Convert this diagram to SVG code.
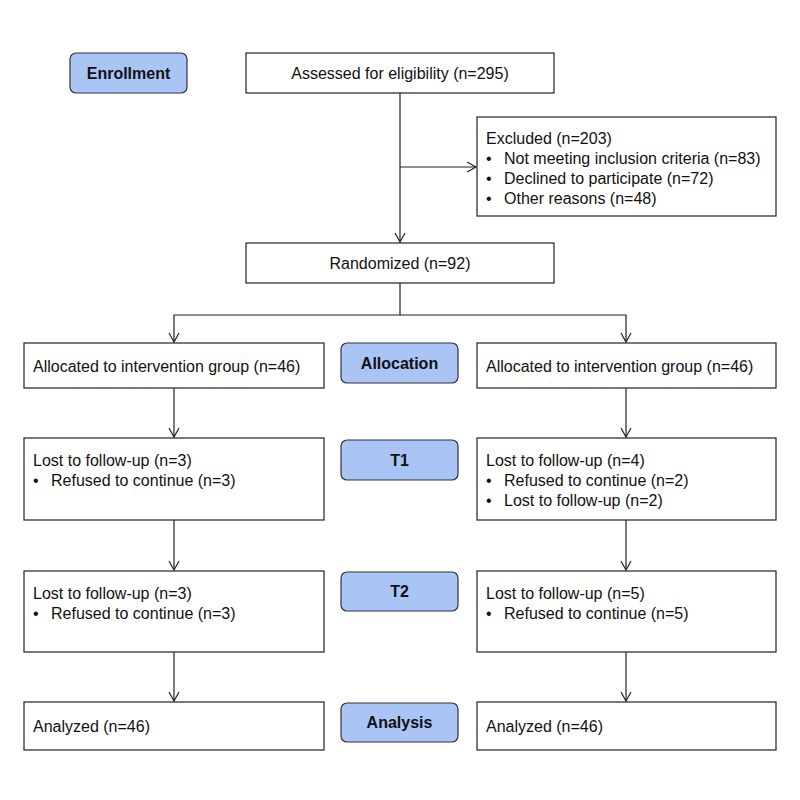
<svg xmlns="http://www.w3.org/2000/svg" width="800" height="800" viewBox="0 0 800 800">
<style>
.box{fill:#fff;stroke:#222;stroke-width:1.2}
.lab{fill:#a9c4f5;stroke:#333;stroke-width:1.2}
text{font-family:"Liberation Sans",Arial,sans-serif;font-size:16px;fill:#111}
.b{font-weight:bold;text-anchor:middle}
.c{text-anchor:middle}
.ln{stroke:#222;stroke-width:1.2;fill:none}
</style>
<defs><marker id="ar" markerWidth="12" markerHeight="12" refX="10" refY="6" orient="auto" markerUnits="userSpaceOnUse"><path d="M1,1 L10,6 L1,11" fill="none" stroke="#222" stroke-width="1.2"/></marker></defs>
<rect width="800" height="800" fill="#fff"/>
<g id="connectors">
<line class="ln" x1="400" y1="93" x2="400" y2="242" marker-end="url(#ar)"/>
<line class="ln" x1="400" y1="167" x2="476" y2="167" marker-end="url(#ar)"/>
<polyline class="ln" points="400,283 400,315 174,315 174,342" marker-end="url(#ar)"/>
<polyline class="ln" points="400,315 626,315 626,342" marker-end="url(#ar)"/>
<line class="ln" x1="174" y1="388" x2="174" y2="437" marker-end="url(#ar)"/>
<line class="ln" x1="626" y1="388" x2="626" y2="437" marker-end="url(#ar)"/>
<line class="ln" x1="174" y1="520" x2="174" y2="570" marker-end="url(#ar)"/>
<line class="ln" x1="626" y1="520" x2="626" y2="570" marker-end="url(#ar)"/>
<line class="ln" x1="174" y1="652" x2="174" y2="701" marker-end="url(#ar)"/>
<line class="ln" x1="626" y1="652" x2="626" y2="701" marker-end="url(#ar)"/>
</g>
<g id="enrollment"><rect class="lab" x="70" y="53" width="117" height="40" rx="6"/><text class="b" x="128.5" y="79">Enrollment</text></g>
<g id="assessed"><rect class="box" x="246" y="53" width="308" height="40"/><text class="c" x="400" y="79">Assessed for eligibility (n=295)</text></g>
<g id="excluded"><rect class="box" x="477" y="117" width="299" height="99"/>
<text x="486" y="144">Excluded (n=203)</text>
<text x="486" y="164">•</text><text x="504" y="164">Not meeting inclusion criteria (n=83)</text>
<text x="486" y="184">•</text><text x="504" y="184">Declined to participate (n=72)</text>
<text x="486" y="204">•</text><text x="504" y="204">Other reasons (n=48)</text></g>
<g id="randomized"><rect class="box" x="246" y="243" width="308" height="40"/><text class="c" x="400" y="269">Randomized (n=92)</text></g>
<g id="allocL"><rect class="box" x="24" y="343" width="300" height="45"/><text x="33" y="372">Allocated to intervention group (n=46)</text></g>
<g id="allocation"><rect class="lab" x="341" y="343" width="117" height="40" rx="6"/><text class="b" x="399.5" y="369">Allocation</text></g>
<g id="allocR"><rect class="box" x="477" y="343" width="299" height="45"/><text x="486" y="372">Allocated to intervention group (n=46)</text></g>
<g id="t1L"><rect class="box" x="24" y="438" width="300" height="82"/>
<text x="33" y="466">Lost to follow-up (n=3)</text><text x="33" y="486">•</text><text x="51" y="486">Refused to continue (n=3)</text></g>
<g id="t1"><rect class="lab" x="341" y="440" width="117" height="40" rx="6"/><text class="b" x="399.5" y="466">T1</text></g>
<g id="t1R"><rect class="box" x="477" y="438" width="299" height="82"/>
<text x="486" y="466">Lost to follow-up (n=4)</text><text x="486" y="486">•</text><text x="504" y="486">Refused to continue (n=2)</text>
<text x="486" y="506">•</text><text x="504" y="506">Lost to follow-up (n=2)</text></g>
<g id="t2L"><rect class="box" x="24" y="571" width="300" height="81"/>
<text x="33" y="599">Lost to follow-up (n=3)</text><text x="33" y="619">•</text><text x="51" y="619">Refused to continue (n=3)</text></g>
<g id="t2"><rect class="lab" x="341" y="572" width="117" height="39" rx="6"/><text class="b" x="399.5" y="597">T2</text></g>
<g id="t2R"><rect class="box" x="477" y="571" width="299" height="81"/>
<text x="486" y="599">Lost to follow-up (n=5)</text><text x="486" y="619">•</text><text x="504" y="619">Refused to continue (n=5)</text></g>
<g id="anL"><rect class="box" x="24" y="702" width="300" height="48"/><text x="33" y="732">Analyzed (n=46)</text></g>
<g id="analysis"><rect class="lab" x="341" y="703" width="117" height="39" rx="6"/><text class="b" x="399.5" y="728">Analysis</text></g>
<g id="anR"><rect class="box" x="477" y="702" width="299" height="48"/><text x="486" y="732">Analyzed (n=46)</text></g>
</svg>
